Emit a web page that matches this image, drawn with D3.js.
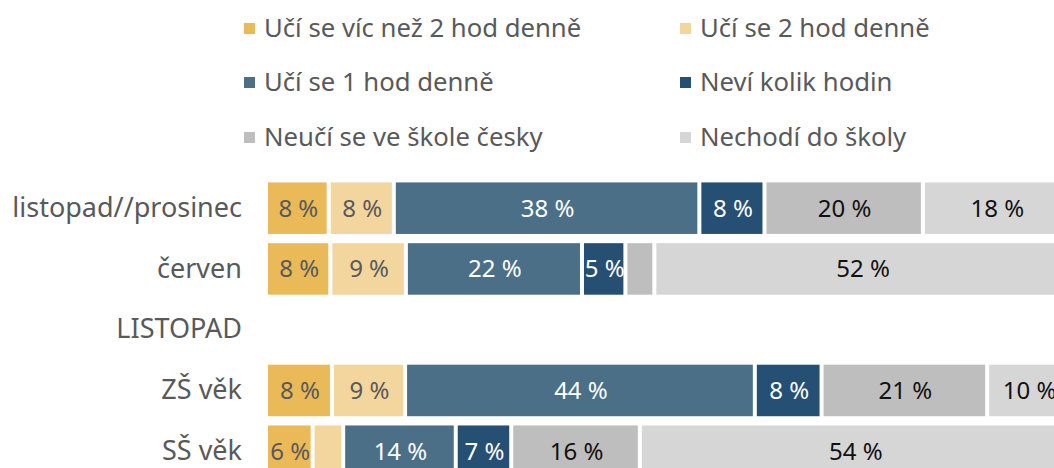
<!DOCTYPE html>
<html><head><meta charset="utf-8">
<script src="https://cdn.jsdelivr.net/npm/d3@7"></script>
<style>
html,body{margin:0;padding:0;background:#fff;}
svg{display:block;}
</style></head>
<body>
<svg id="chart" width="1054" height="468"></svg>
<script>
const categories = ["listopad//prosinec", "červen", "LISTOPAD", "ZŠ věk", "SŠ věk"];
const seriesNames = ["Učí se víc než 2 hod denně", "Učí se 2 hod denně", "Učí se 1 hod denně", "Neví kolik hodin", "Neučí se ve škole česky", "Nechodí do školy"];
const seriesColors = ["#EBBA58", "#F3D69E", "#4B6F87", "#265073", "#BEBEBE", "#D6D6D6"];
const v_listopadProsinec = [7.8, 8.1, 38.0, 8.1, 19.7, 18.3];
const v_cerven = [8.0, 9.4, 21.9, 5.4, 3.6, 51.7];
const v_listopad = null;
const v_zs = [8.2, 9.1, 43.5, 8.3, 20.6, 10.3];
const v_ss = [5.8, 3.8, 14.0, 6.9, 16.0, 53.5];
const rowValues = [v_listopadProsinec, v_cerven, v_listopad, v_zs, v_ss];

const svg = d3.select("#chart");
const sansFont = "'Noto Sans', 'Open Sans', sans-serif";
const textGray = "#595959";

const x = d3.scaleLinear().domain([0, 100]).range([268, 1072]);
const y = d3.scaleBand().domain(categories).range([177.8, 481.6]).paddingInner(0.152).paddingOuter(0.076);
const color = d3.scaleOrdinal().domain(seriesNames).range(seriesColors);
const gap = 4;

// category axis labels
const yAxis = d3.axisLeft(y).tickSize(0).tickPadding(0);
const ga = svg.append("g").attr("transform", "translate(242,0)").call(yAxis);
ga.select(".domain").remove();
ga.selectAll("text").attr("font-family", sansFont).attr("font-size", 27).attr("fill", textGray);

// bars
categories.forEach((cat, ri) => {
  const vals = rowValues[ri];
  if (!vals) return;
  let acc = 0;
  const segs = vals.map((v, i) => { const s = {cat, i, v, x0: acc, x1: acc + v}; acc += v; return s; });
  const g = svg.append("g");
  g.selectAll("rect").data(segs).join("rect")
    .attr("x", d => x(d.x0))
    .attr("y", y(cat))
    .attr("width", d => Math.max(0, x(d.x1) - x(d.x0) - gap))
    .attr("height", y.bandwidth())
    .attr("fill", d => seriesColors[d.i]);
  g.selectAll("text").data(segs.filter(d => d.v >= 4.5)).join("text")
    .attr("x", d => (x(d.x0) + x(d.x1) - gap) / 2 + 1)
    .attr("y", y(cat) + y.bandwidth() / 2)
    .attr("dy", "0.35em")
    .attr("text-anchor", "middle")
    .attr("font-family", sansFont)
    .attr("font-size", 24)
    .attr("fill", d => d.i < 2 ? textGray : (d.i < 4 ? "#ffffff" : "#111111"))
    .text(d => Math.round(d.v) + " %");
});

// legend
const legendCols = [244, 680];
const legendRows = [28, 82, 137];
const lg = svg.append("g");
seriesNames.forEach((name, i) => {
  const cx = legendCols[i % 2], cy = legendRows[Math.floor(i / 2)];
  lg.append("rect").attr("x", cx).attr("y", cy - 5).attr("width", 11).attr("height", 11).attr("fill", color(name));
  lg.append("text").attr("x", cx + 20).attr("y", cy).attr("dy", "0.35em")
    .attr("font-family", sansFont).attr("font-size", 25.7).attr("fill", textGray).text(name);
});
</script>
</body></html>
